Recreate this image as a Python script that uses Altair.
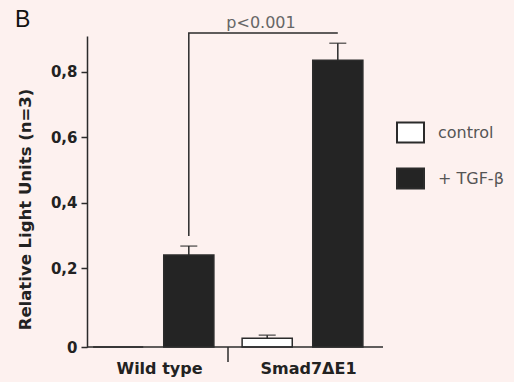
import altair as alt
import pandas as pd

# ---- data ----
groups = ["Wild type", "Wild type", "Smad7ΔE1", "Smad7ΔE1"]
treatments = ["control", "+ TGF-β", "control", "+ TGF-β"]
means = [0.0, 0.24, 0.022, 0.835]
errors = [0.0, 0.027, 0.008, 0.052]

group_order = ["Wild type", "Smad7ΔE1"]
treatment_order = ["control", "+ TGF-β"]
y_ticks = [0, 0.2, 0.4, 0.6, 0.8]

bracket_groups = ["Wild type", "Wild type", "Smad7ΔE1"]
bracket_treatments = ["+ TGF-β", "+ TGF-β", "+ TGF-β"]
bracket_y = [0.298, 0.918, 0.918]
bracket_order = [0, 1, 2]
p_label = ["p<0.001"]
panel_label = ["B"]
divider_group = ["Smad7ΔE1"]

df = pd.DataFrame({"group": groups, "treatment": treatments, "mean": means, "err": errors})
df["upper"] = df["mean"] + df["err"]
br = pd.DataFrame({"group": bracket_groups, "treatment": bracket_treatments,
                   "y": bracket_y, "o": bracket_order})

INK = "#2b2b2b"
Y_TITLE = "Relative Light Units (n=3)"

x_scale = alt.Scale(domain=group_order, range=[-8, 290], paddingInner=0, paddingOuter=0)
xo_scale = alt.Scale(domain=treatment_order, paddingInner=0.29, paddingOuter=0.2)
y_scale = alt.Scale(domain=[0, 0.2, 0.909], range=[311, 232, 0], nice=False, zero=False)

x_axis = alt.Axis(title=None, labelAngle=0, ticks=False, domain=False,
                  labelFont="DejaVu Sans", labelFontWeight="bold", labelFontSize=16,
                  labelColor="#222", labelPadding=13, labelOffset=6)
y_axis = alt.Axis(values=y_ticks, grid=False,
                  labelExpr="datum.value == 0 ? '0' : replace(format(datum.value, '.1f'), '.', ',')",
                  labelFont="DejaVu Sans", labelFontWeight="bold", labelFontSize=15,
                  labelColor="#222", labelPadding=4,
                  tickSize=6, tickWidth=1.5, tickColor=INK,
                  domainColor=INK, domainWidth=1.5,
                  titleFont="DejaVu Sans", titleFontWeight="bold", titleFontSize=16.5,
                  titleColor="#222", titleX=-62, titleY=173, titleBaseline="middle",
                  titleAngle=270)


def X():
    return alt.X("group:N", sort=group_order, scale=x_scale, axis=x_axis)


def XO():
    return alt.XOffset("treatment:N", sort=treatment_order, scale=xo_scale)


def Y(field):
    return alt.Y(f"{field}:Q", scale=y_scale, axis=y_axis, title=Y_TITLE)


bars = alt.Chart(df).mark_bar(stroke=INK, strokeWidth=1.5).encode(
    x=X(), xOffset=XO(), y=Y("mean"),
    fill=alt.Fill("treatment:N", sort=treatment_order,
                  scale=alt.Scale(domain=treatment_order, range=["#ffffff", "#242424"]),
                  legend=alt.Legend(title=None, orient="none", legendX=309, legendY=82,
                                    symbolType="M-1,-0.74L1,-0.74L1,0.74L-1,0.74Z",
                                    symbolSize=729, symbolStrokeColor=INK,
                                    symbolStrokeWidth=2, labelFont="DejaVu Sans",
                                    labelFontSize=16, labelColor="#555",
                                    labelOffset=13, rowPadding=17, padding=0)),
)

err_df = df[df["err"] > 0]
err_rules = alt.Chart(err_df).mark_rule(color=INK, strokeWidth=1.5).encode(
    x=X(), xOffset=XO(), y=Y("mean"), y2="upper:Q")
caps = alt.Chart(err_df).mark_tick(color=INK, size=17, thickness=1.5).encode(
    x=X(), xOffset=XO(), y=Y("upper"))

bracket = alt.Chart(br).mark_line(color=INK, strokeWidth=1.5).encode(
    x=X(), xOffset=XO(), y=Y("y"), order="o:Q")

p_text = alt.Chart(pd.DataFrame({"t": p_label})).mark_text(
    font="DejaVu Sans", fontSize=16, color="#666", align="center", baseline="alphabetic"
).encode(text="t:N", x=alt.value(174), y=alt.value(-8))

b_text = alt.Chart(pd.DataFrame({"t": panel_label})).mark_text(
    font="Liberation Sans", fontSize=23, color="#111", align="left", baseline="alphabetic"
).encode(text="t:N", x=alt.value(-72), y=alt.value(-9))

baseline = alt.Chart(pd.DataFrame({"t": [0]})).mark_rule(color=INK, strokeWidth=1.5).encode(
    x=alt.value(0), x2=alt.value(296), y=alt.value(311))

divider = alt.Chart(pd.DataFrame({"group": divider_group})).mark_rule(
    color=INK, strokeWidth=1.5).encode(
    x=alt.X("group:N", sort=group_order, scale=x_scale, axis=x_axis, bandPosition=0),
    y=alt.value(311), y2=alt.value(326))

chart = alt.layer(bars, err_rules, caps, bracket, baseline, divider, p_text, b_text).properties(
    width=296, height=311,
    autosize=alt.AutoSizeParams(type="none"),
    padding={"left": 87, "top": 36, "right": 131, "bottom": 35},
    background="#fdf1ef",
).configure_view(stroke=None)

chart.save("out.html", embed_options={"renderer": "svg", "actions": False})
